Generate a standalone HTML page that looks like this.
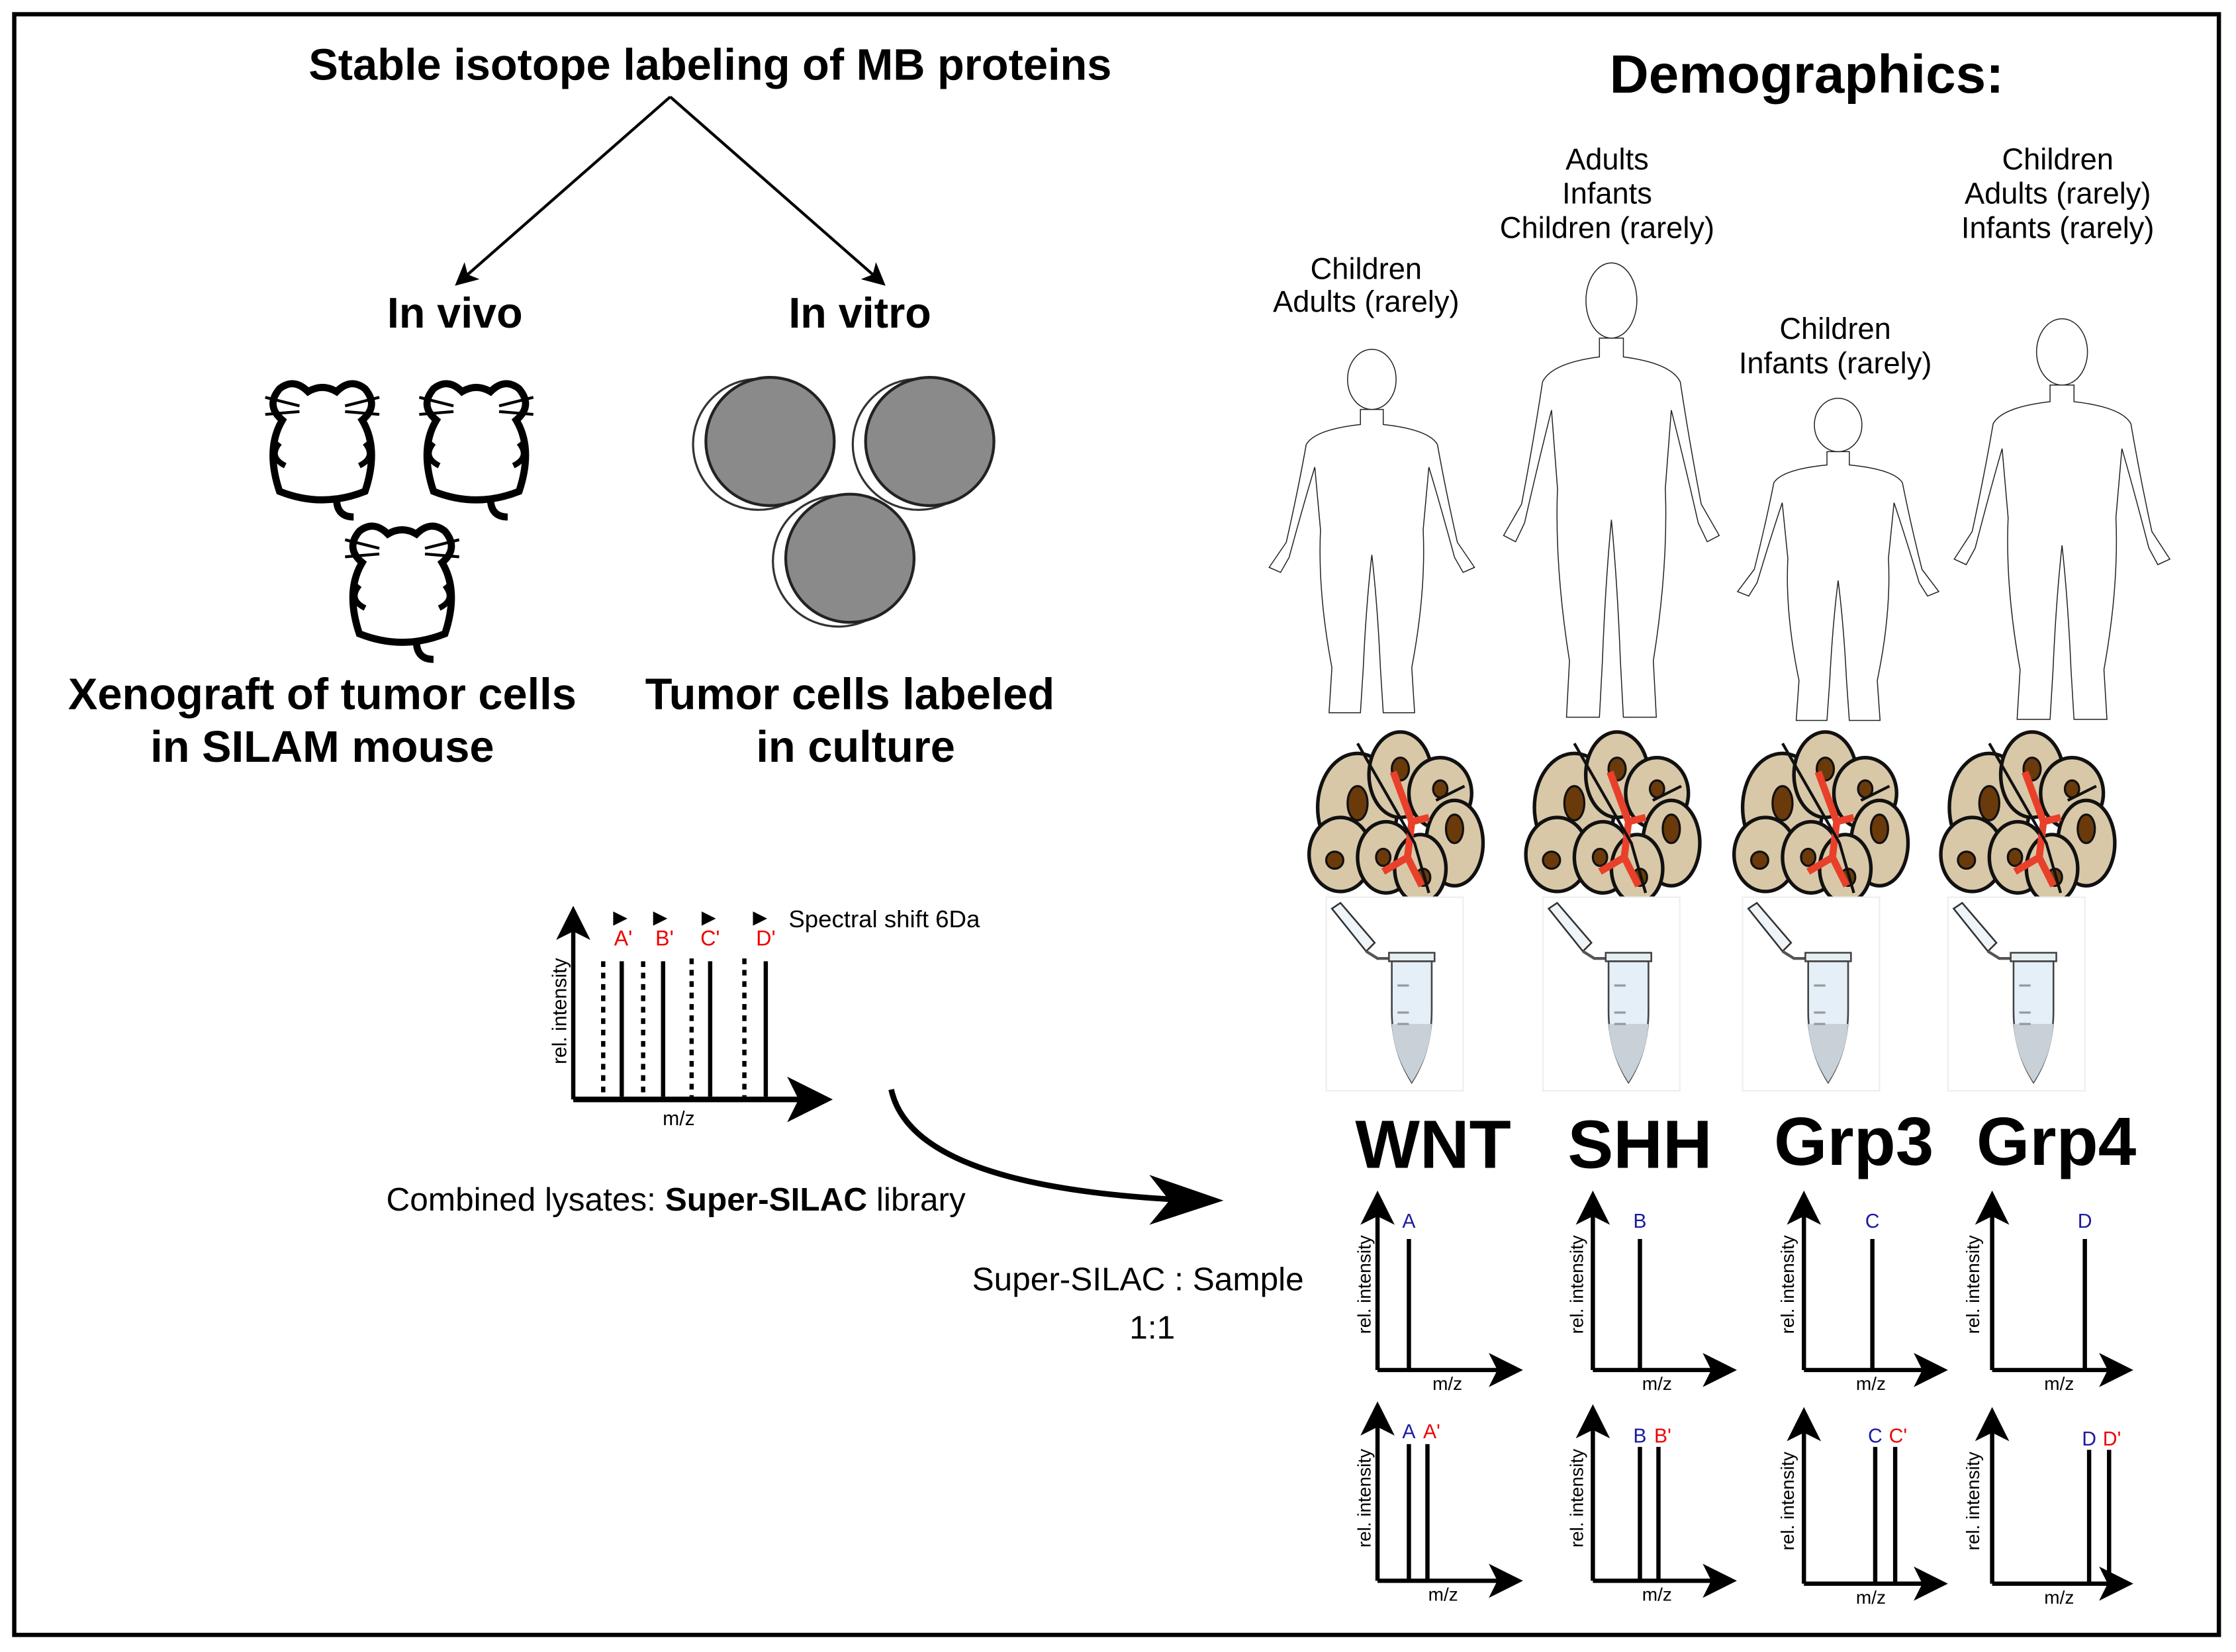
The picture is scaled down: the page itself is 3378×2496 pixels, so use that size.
<!DOCTYPE html>
<html><head><meta charset="utf-8"><style>
html,body{margin:0;padding:0;background:#fff}
svg{display:block}
text{font-family:"Liberation Sans",sans-serif}
</style></head><body>
<svg width="3378" height="2496" viewBox="0 0 1568 1160" preserveAspectRatio="none" xmlns="http://www.w3.org/2000/svg">
<defs>
<marker id="ah" markerWidth="8" markerHeight="8" refX="6" refY="4" orient="auto" markerUnits="strokeWidth"><path d="M0,0 L8,4 L0,8 L2,4 Z" fill="#000"/></marker>
<g id="human">
<path d="M -8,54 L -8,66 Q -40,70 -46,82 Q -52,120 -60,160 L -72,180 L -64,184 L -58,172 Q -48,130 -40,100 L -36,150 Q -38,200 -28,260 L -30,296 L -8,296 L -6,260 Q -4,210 0,170 Q 4,210 6,260 L 8,296 L 30,296 L 28,260 Q 38,200 36,150 L 40,100 Q 48,130 58,172 L 64,184 L 72,180 L 60,160 Q 52,120 46,82 Q 40,70 8,66 L 8,54 Z" fill="#fff" stroke="#222" stroke-width="1.5" vector-effect="non-scaling-stroke"/>
<ellipse cx="0" cy="30" rx="17" ry="24" fill="#fff" stroke="#222" stroke-width="1.5" vector-effect="non-scaling-stroke"/>
</g>
<g id="mouse" fill="#fff" stroke="#000" stroke-width="5">
<path d="M -30,40 Q -40,10 -28,-10 Q -40,-20 -30,-32 Q -20,-40 -10,-30 Q 0,-36 10,-30 Q 20,-40 30,-32 Q 40,-20 28,-10 Q 40,10 30,40 Q 0,52 -30,40 Z"/>
<path d="M 10,45 Q 10,58 22,58" fill="none"/>
<path d="M -16,-20 L -40,-26 M -16,-16 L -40,-14 M 16,-20 L 40,-26 M 16,-16 L 40,-14" stroke-width="2"/>
<path d="M -30,6 Q -38,16 -26,22 M 30,6 Q 38,16 26,22" fill="none" stroke-width="4"/>
</g>
<g id="dish"><circle cx="-4" cy="2" r="46" fill="#fff" stroke="#333" stroke-width="1.5"/><circle cx="4" cy="0" r="45" fill="#8a8a8a" stroke="#222" stroke-width="2"/></g>
<g id="tumor" stroke="#111" stroke-width="2.5">
<ellipse cx="-30" cy="-5" rx="28" ry="38" fill="#d8c8a8"/>
<ellipse cx="0" cy="-28" rx="22" ry="30" fill="#d8c8a8"/>
<ellipse cx="28" cy="-15" rx="22" ry="25" fill="#d8c8a8"/>
<ellipse cx="-42" cy="28" rx="22" ry="26" fill="#d8c8a8"/>
<ellipse cx="-10" cy="30" rx="20" ry="25" fill="#d8c8a8"/>
<ellipse cx="38" cy="20" rx="20" ry="30" fill="#d8c8a8"/>
<ellipse cx="14" cy="38" rx="18" ry="24" fill="#d8c8a8"/>
<g fill="#6b3a0a" stroke-width="1.5"><ellipse cx="-30" cy="-8" rx="7" ry="12"/><ellipse cx="0" cy="-32" rx="6" ry="8"/><ellipse cx="28" cy="-18" rx="5" ry="6"/><ellipse cx="-46" cy="32" rx="6" ry="6"/><ellipse cx="-12" cy="30" rx="5" ry="6"/><ellipse cx="38" cy="10" rx="6" ry="10"/><ellipse cx="16" cy="44" rx="5" ry="6"/></g>
<path d="M -5,-30 L 8,5 L 20,2 M 8,5 L 5,30 L -12,40 M 5,30 L 15,50" fill="none" stroke="#e8402a" stroke-width="5"/>
<path d="M -30,-50 L 10,20 L 20,55 M 25,-10 L 45,-20" fill="none" stroke="#111" stroke-width="2"/>
</g>
<g id="tube">
<rect x="-52" y="-60" width="96" height="136" fill="#fff" stroke="#eee"/>
<path d="M -48,-52 L -42,-56 L -18,-28 L -24,-22 Z" fill="#eef4f8" stroke="#333" stroke-width="1.2"/>
<path d="M -24,-22 L -16,-17 L -8,-17" fill="none" stroke="#555" stroke-width="2"/>
<rect x="-8" y="-21" width="32" height="6" fill="#e6eef2" stroke="#444" stroke-width="1.2"/>
<path d="M -6,-15 L -6,20 Q -6,48 8,70 Q 22,48 22,20 L 22,-15 Z" fill="#e4eff7" stroke="#444" stroke-width="1.2"/>
<path d="M -6,29 Q -5,50 8,70 Q 21,50 22,29 Z" fill="#c8d0d8"/>
<path d="M -2,2 L 6,2 M -2,21 L 6,21 M -2,29 L 6,29" stroke="#999" stroke-width="1.5"/>
</g>
</defs>

<rect x="10" y="10" width="1546" height="1138" fill="#fff" stroke="#000" stroke-width="3"/>

<text x="498" y="56" font-size="31" font-weight="bold" text-anchor="middle">Stable isotope labeling of MB proteins</text>
<line x1="470" y1="68" x2="322" y2="198" stroke="#000" stroke-width="2" marker-end="url(#ah)"/>
<line x1="470" y1="68" x2="618" y2="198" stroke="#000" stroke-width="2" marker-end="url(#ah)"/>
<text x="319" y="230" font-size="30" font-weight="bold" text-anchor="middle">In vivo</text>
<text x="603" y="230" font-size="30" font-weight="bold" text-anchor="middle">In vitro</text>

<use href="#mouse" transform="translate(226,305)"/>
<use href="#mouse" transform="translate(334,305)"/>
<use href="#mouse" transform="translate(282,405)"/>
<use href="#dish" transform="translate(536,310)"/>
<use href="#dish" transform="translate(648,310)"/>
<use href="#dish" transform="translate(592,392)"/>

<text x="226" y="498" font-size="31" font-weight="bold" text-anchor="middle">Xenograft of tumor cells</text>
<text x="226" y="535" font-size="31" font-weight="bold" text-anchor="middle">in SILAM mouse</text>
<text x="596" y="498" font-size="31" font-weight="bold" text-anchor="middle">Tumor cells labeled</text>
<text x="600" y="535" font-size="31" font-weight="bold" text-anchor="middle">in culture</text>

<text x="1267" y="65" font-size="38" font-weight="bold" text-anchor="middle">Demographics:</text>
<g font-size="21" text-anchor="middle">
<text x="958" y="196">Children</text><text x="958" y="219">Adults (rarely)</text>
<text x="1127" y="119">Adults</text><text x="1127" y="143">Infants</text><text x="1127" y="167">Children (rarely)</text>
<text x="1287" y="238">Children</text><text x="1287" y="262">Infants (rarely)</text>
<text x="1443" y="119">Children</text><text x="1443" y="143">Adults (rarely)</text><text x="1443" y="167">Infants (rarely)</text>
</g>
<use href="#human" transform="translate(962,240) scale(1,0.88)"/>
<use href="#human" transform="translate(1130,178) scale(1.05,1.1)"/>
<use href="#human" transform="translate(1289,275) scale(0.98,0.78)"/>
<use href="#human" transform="translate(1446,218) scale(1.05,0.97)"/>

<use href="#tumor" transform="translate(982,572)"/>
<use href="#tumor" transform="translate(1134,572)"/>
<use href="#tumor" transform="translate(1280,572)"/>
<use href="#tumor" transform="translate(1425,572)"/>
<use href="#tube" transform="translate(982,690)"/>
<use href="#tube" transform="translate(1134,690)"/>
<use href="#tube" transform="translate(1274,690)"/>
<use href="#tube" transform="translate(1418,690)"/>

<g font-size="48" font-weight="bold" text-anchor="middle">
<text x="1005" y="820">WNT</text><text x="1150" y="820">SHH</text><text x="1300" y="818">Grp3</text><text x="1442" y="818">Grp4</text>
</g>

<g stroke="#000">
<line x1="402" y1="772" x2="402" y2="642" stroke-width="3" marker-end="url(#ah)"/>
<line x1="402" y1="772" x2="576" y2="772" stroke-width="4" marker-end="url(#ah)"/>
<g stroke-width="3" stroke-dasharray="4,4"><line x1="423" y1="675" x2="423" y2="770"/><line x1="451" y1="675" x2="451" y2="770"/><line x1="485" y1="673" x2="485" y2="770"/><line x1="522" y1="673" x2="522" y2="770"/></g>
<g stroke-width="3"><line x1="436" y1="675" x2="436" y2="770"/><line x1="465" y1="675" x2="465" y2="770"/><line x1="498" y1="675" x2="498" y2="770"/><line x1="537" y1="675" x2="537" y2="770"/></g>
</g>
<g fill="#000"><path d="M430,640 L440,645 L430,650 Z"/><path d="M458,640 L468,645 L458,650 Z"/><path d="M492,640 L502,645 L492,650 Z"/><path d="M528,640 L538,645 L528,650 Z"/></g>
<g fill="#e00" font-size="15" text-anchor="middle"><text x="437" y="664">A'</text><text x="466" y="664">B'</text><text x="498" y="664">C'</text><text x="537" y="664">D'</text></g>
<text x="553" y="651" font-size="17">Spectral shift 6Da</text>
<text x="397" y="710" font-size="14" transform="rotate(-90 397 710)" text-anchor="middle">rel. intensity</text>
<text x="476" y="790" font-size="14" text-anchor="middle">m/z</text>

<text x="474" y="850" font-size="23" text-anchor="middle">Combined lysates: <tspan font-weight="bold">Super-SILAC</tspan> library</text>
<path d="M625,765 Q 640,835 840,843" fill="none" stroke="#000" stroke-width="4"/>
<path d="M858,843 L 806,825 L 820,843 L 806,860 Z" fill="#000"/>
<text x="798" y="906" font-size="23" text-anchor="middle">Super-SILAC : Sample</text>
<text x="808" y="940" font-size="23" text-anchor="middle">1:1</text>

<g stroke="#000" stroke-width="3">
<line x1="966" y1="962" x2="966" y2="842" marker-end="url(#ah)"/><line x1="966" y1="962" x2="1062" y2="962" marker-end="url(#ah)"/><line x1="988" y1="870" x2="988" y2="962"/>
<line x1="1117" y1="962" x2="1117" y2="842" marker-end="url(#ah)"/><line x1="1117" y1="962" x2="1212" y2="962" marker-end="url(#ah)"/><line x1="1150" y1="870" x2="1150" y2="962"/>
<line x1="1265" y1="962" x2="1265" y2="842" marker-end="url(#ah)"/><line x1="1265" y1="962" x2="1360" y2="962" marker-end="url(#ah)"/><line x1="1313" y1="870" x2="1313" y2="962"/>
<line x1="1397" y1="962" x2="1397" y2="842" marker-end="url(#ah)"/><line x1="1397" y1="962" x2="1490" y2="962" marker-end="url(#ah)"/><line x1="1462" y1="870" x2="1462" y2="962"/>

<line x1="966" y1="1110" x2="966" y2="990" marker-end="url(#ah)"/><line x1="966" y1="1110" x2="1062" y2="1110" marker-end="url(#ah)"/><line x1="988" y1="1014" x2="988" y2="1110"/><line x1="1001" y1="1014" x2="1001" y2="1110"/>
<line x1="1117" y1="1110" x2="1117" y2="992" marker-end="url(#ah)"/><line x1="1117" y1="1110" x2="1212" y2="1110" marker-end="url(#ah)"/><line x1="1150" y1="1016" x2="1150" y2="1110"/><line x1="1163" y1="1016" x2="1163" y2="1110"/>
<line x1="1265" y1="1112" x2="1265" y2="994" marker-end="url(#ah)"/><line x1="1265" y1="1112" x2="1360" y2="1112" marker-end="url(#ah)"/><line x1="1315" y1="1016" x2="1315" y2="1112"/><line x1="1329" y1="1016" x2="1329" y2="1112"/>
<line x1="1397" y1="1112" x2="1397" y2="994" marker-end="url(#ah)"/><line x1="1397" y1="1112" x2="1490" y2="1112" marker-end="url(#ah)"/><line x1="1465" y1="1018" x2="1465" y2="1112"/><line x1="1479" y1="1018" x2="1479" y2="1112"/>
</g>
<g font-size="14" fill="#1a1aa0" text-anchor="middle">
<text x="988" y="862">A</text><text x="1150" y="862">B</text><text x="1313" y="862">C</text><text x="1462" y="862">D</text>
<text x="988" y="1010">A</text><text x="1150" y="1013">B</text><text x="1315" y="1013">C</text><text x="1465" y="1015">D</text>
</g>
<g font-size="14" fill="#e00" text-anchor="middle"><text x="1004" y="1010">A'</text><text x="1166" y="1013">B'</text><text x="1331" y="1013">C'</text><text x="1481" y="1015">D'</text></g>
<g font-size="13" text-anchor="middle">
<text x="1015" y="976">m/z</text><text x="1162" y="976">m/z</text><text x="1312" y="976">m/z</text><text x="1444" y="976">m/z</text>
<text x="1012" y="1124">m/z</text><text x="1162" y="1124">m/z</text><text x="1312" y="1126">m/z</text><text x="1444" y="1126">m/z</text>
<text transform="translate(961,902) rotate(-90)">rel. intensity</text>
<text transform="translate(1110,902) rotate(-90)">rel. intensity</text>
<text transform="translate(1258,902) rotate(-90)">rel. intensity</text>
<text transform="translate(1388,902) rotate(-90)">rel. intensity</text>
<text transform="translate(961,1052) rotate(-90)">rel. intensity</text>
<text transform="translate(1110,1052) rotate(-90)">rel. intensity</text>
<text transform="translate(1258,1054) rotate(-90)">rel. intensity</text>
<text transform="translate(1388,1054) rotate(-90)">rel. intensity</text>
</g>
</svg>
</body></html>
